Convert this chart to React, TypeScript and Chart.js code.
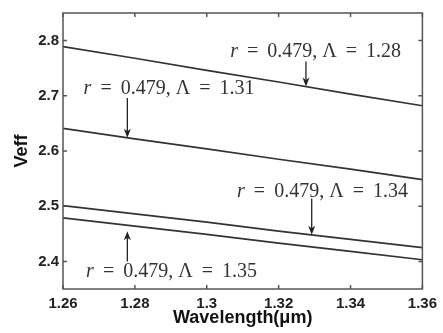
import React, { useEffect, useRef } from "react";
import { Chart, registerables } from "chart.js";

Chart.register(...registerables);

// ---- data ----
const wavelengths = [1.26, 1.28, 1.3, 1.32, 1.34, 1.36];
const veffL128 = [2.789, 2.768, 2.746, 2.725, 2.703, 2.682];
const veffL131 = [2.641, 2.622, 2.604, 2.585, 2.567, 2.548];
const veffL134 = [2.501, 2.486, 2.471, 2.455, 2.44, 2.425];
const veffL135 = [2.479, 2.464, 2.449, 2.433, 2.418, 2.403];
const radius = "0.479";
const periods = ["1.28", "1.31", "1.34", "1.35"];
const xTicks = [1.26, 1.28, 1.3, 1.32, 1.34, 1.36];
const yTicks = [2.4, 2.5, 2.6, 2.7, 2.8];
const xTitle = "Wavelength(μm)";
const yTitle = "Veff";
// annotation anchors (data coordinates)
const labelX = [1.3303, 1.2895, 1.3322, 1.2902];
const labelY = [2.78, 2.712, 2.526, 2.382];
const arrowX = [1.3276, 1.2779, 1.3292, 1.2779];
const arrowStartY = [2.762, 2.696, 2.514, 2.4];
const arrowGap = [0, 0, 0, 6];

const seriesList = [veffL128, veffL131, veffL134, veffL135];

function interp(xs: number[], ys: number[], x: number) {
  for (let i = 0; i < xs.length - 1; i++) {
    if (x >= xs[i] && x <= xs[i + 1]) {
      const t = (x - xs[i]) / (xs[i + 1] - xs[i]);
      return ys[i] + t * (ys[i + 1] - ys[i]);
    }
  }
  return ys[ys.length - 1];
}

const fmt = (v: number) => String(Number(v.toFixed(2)));

const decorPlugin = {
  id: "decor",
  afterDraw(chart: any) {
    const ctx = chart.ctx as CanvasRenderingContext2D;
    const { left, right, top, bottom } = chart.chartArea;
    const xs = chart.scales.x;
    const ys = chart.scales.y;
    ctx.save();
    // box
    ctx.strokeStyle = "#555";
    ctx.lineWidth = 1.5;
    ctx.strokeRect(left, top, right - left, bottom - top);
    // inward ticks
    ctx.beginPath();
    const tl = 4;
    xTicks.forEach((v) => {
      const px = xs.getPixelForValue(v);
      ctx.moveTo(px, bottom);
      ctx.lineTo(px, bottom - tl);
      ctx.moveTo(px, top);
      ctx.lineTo(px, top + tl);
    });
    yTicks.forEach((v) => {
      const py = ys.getPixelForValue(v);
      ctx.moveTo(left, py);
      ctx.lineTo(left + tl, py);
      ctx.moveTo(right, py);
      ctx.lineTo(right - tl, py);
    });
    ctx.stroke();

    // axis titles
    ctx.fillStyle = "#111";
    ctx.font = "bold 18px 'Liberation Sans', Arial, sans-serif";
    ctx.textAlign = "center";
    ctx.textBaseline = "middle";
    ctx.fillText(xTitle, (left + right) / 2, 318);
    ctx.save();
    ctx.translate(22, (top + bottom) / 2);
    ctx.rotate(-Math.PI / 2);
    ctx.fillText(yTitle, 0, 0);
    ctx.restore();

    // annotations
    const fontSize = 20;
    periods.forEach((p, i) => {
      const cx = xs.getPixelForValue(labelX[i]);
      const cy = ys.getPixelForValue(labelY[i]);
      const partA = "r";
      const partB = "\u2009 = \u2009" + radius + ", \u039B \u2009=\u2009 " + p;
      ctx.font = `italic ${fontSize}px 'Liberation Serif', 'Times New Roman', serif`;
      const wA = ctx.measureText(partA).width;
      ctx.font = `${fontSize}px 'Liberation Serif', 'Times New Roman', serif`;
      const wB = ctx.measureText(partB).width;
      const x0 = cx - (wA + wB) / 2;
      ctx.fillStyle = "#333";
      ctx.textAlign = "left";
      ctx.textBaseline = "middle";
      ctx.font = `italic ${fontSize}px 'Liberation Serif', 'Times New Roman', serif`;
      ctx.fillText(partA, x0, cy);
      ctx.font = `${fontSize}px 'Liberation Serif', 'Times New Roman', serif`;
      ctx.fillText(partB, x0 + wA, cy);

      // arrow
      const ax = xs.getPixelForValue(arrowX[i]);
      const ay0 = ys.getPixelForValue(arrowStartY[i]);
      let ay1 = ys.getPixelForValue(interp(wavelengths, seriesList[i], arrowX[i]));
      const dir = ay1 > ay0 ? 1 : -1;
      ay1 -= dir * arrowGap[i];
      ctx.strokeStyle = "#222";
      ctx.fillStyle = "#222";
      ctx.lineWidth = 1.3;
      ctx.beginPath();
      ctx.moveTo(ax, ay0);
      ctx.lineTo(ax, ay1 - dir * 6);
      ctx.stroke();
      ctx.beginPath();
      ctx.moveTo(ax, ay1);
      ctx.lineTo(ax - 3.5, ay1 - dir * 9);
      ctx.lineTo(ax, ay1 - dir * 6.5);
      ctx.lineTo(ax + 3.5, ay1 - dir * 9);
      ctx.closePath();
      ctx.fill();
    });
    ctx.restore();
  },
};

export default function App() {
  const ref = useRef<HTMLCanvasElement | null>(null);
  useEffect(() => {
    document.body.style.margin = "0";
    if (!ref.current) return;
    const tickFont = { family: "'Liberation Sans', Arial, sans-serif", size: 15, weight: "bold" as const };
    const chart = new Chart(ref.current, {
      type: "line",
      data: {
        datasets: seriesList.map((s, i) => ({
          label: periods[i],
          data: wavelengths.map((w, j) => ({ x: w, y: s[j] })),
          borderColor: "#333",
          borderWidth: 1.7,
          pointRadius: 0,
          tension: 0,
          fill: false,
        })),
      },
      options: {
        animation: false,
        responsive: false,
        events: [],
        layout: { padding: { top: 6, right: 17, left: 0, bottom: 0 } },
        plugins: { legend: { display: false }, tooltip: { enabled: false } },
        scales: {
          x: {
            type: "linear",
            min: 1.26,
            max: 1.36,
            grid: { display: false, drawTicks: false },
            border: { display: false },
            afterBuildTicks: (sc: any) => {
              sc.ticks = xTicks.map((v) => ({ value: v }));
            },
            afterFit: (sc: any) => {
              sc.height = 44;
            },
            ticks: {
              padding: 6,
              color: "#222",
              font: tickFont,
              maxRotation: 0,
              autoSkip: false,
              callback: (v: any) => fmt(Number(v)),
            },
          },
          y: {
            type: "linear",
            min: 2.35,
            max: 2.85,
            grid: { display: false, drawTicks: false },
            border: { display: false },
            afterBuildTicks: (sc: any) => {
              sc.ticks = yTicks.map((v) => ({ value: v }));
            },
            afterFit: (sc: any) => {
              sc.width = 63;
            },
            ticks: {
              padding: 4,
              color: "#222",
              font: tickFont,
              autoSkip: false,
              callback: (v: any) => fmt(Number(v)),
            },
          },
        },
      },
      plugins: [decorPlugin],
    });
    return () => chart.destroy();
  }, []);
  return <canvas ref={ref} width={443} height={333} style={{ display: "block", background: "#fff" }} />;
}
